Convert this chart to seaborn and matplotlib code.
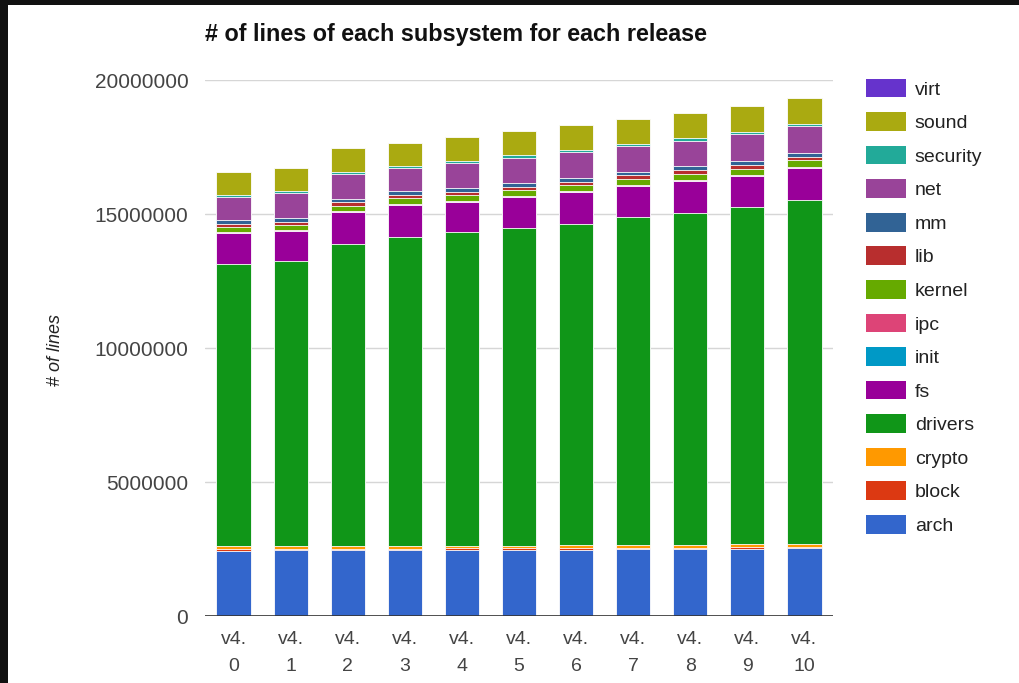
import matplotlib
matplotlib.use("Agg")
import matplotlib.pyplot as plt
import seaborn as sns
import pandas as pd
from matplotlib.patches import Patch, Rectangle

releases = ["v4.0", "v4.1", "v4.2", "v4.3", "v4.4", "v4.5",
            "v4.6", "v4.7", "v4.8", "v4.9", "v4.10"]
tick_labels = ["v4.\n0", "v4.\n1", "v4.\n2", "v4.\n3", "v4.\n4", "v4.\n5",
               "v4.\n6", "v4.\n7", "v4.\n8", "v4.\n9", "v4.\n10"]

subsystems = ["arch", "block", "crypto", "drivers", "fs", "init", "ipc",
              "kernel", "lib", "mm", "net", "security", "sound", "virt"]
colors = ["#3366cc", "#dc3912", "#ff9900", "#109618", "#990099", "#0099c6",
          "#dd4477", "#66aa00", "#b82e2e", "#316395", "#994499", "#22aa99",
          "#aaaa11", "#6633cc"]

# lines of code per subsystem, in millions
arch     = [2.44, 2.45, 2.46, 2.46, 2.47, 2.47, 2.48, 2.49, 2.50, 2.51, 2.52]
block    = [0.05, 0.05, 0.05, 0.05, 0.05, 0.05, 0.05, 0.05, 0.05, 0.05, 0.05]
crypto   = [0.11, 0.11, 0.11, 0.11, 0.11, 0.11, 0.11, 0.11, 0.11, 0.11, 0.11]
drivers  = [10.53, 10.64, 11.26, 11.52, 11.70, 11.85, 11.99, 12.24, 12.38, 12.59, 12.84]
fs       = [1.16, 1.12, 1.19, 1.20, 1.12, 1.15, 1.19, 1.15, 1.19, 1.16, 1.20]
init     = [0.01, 0.01, 0.01, 0.01, 0.01, 0.01, 0.01, 0.01, 0.01, 0.01, 0.01]
ipc      = [0.02, 0.02, 0.02, 0.02, 0.02, 0.02, 0.02, 0.02, 0.02, 0.02, 0.02]
kernel   = [0.20, 0.20, 0.21, 0.21, 0.22, 0.22, 0.23, 0.23, 0.24, 0.24, 0.25]
lib      = [0.12, 0.12, 0.12, 0.13, 0.13, 0.13, 0.13, 0.14, 0.14, 0.14, 0.14]
mm       = [0.13, 0.13, 0.13, 0.13, 0.14, 0.14, 0.14, 0.14, 0.14, 0.15, 0.15]
net      = [0.87, 0.92, 0.93, 0.88, 0.93, 0.95, 0.96, 0.95, 0.96, 0.99, 0.98]
security = [0.08, 0.08, 0.08, 0.08, 0.08, 0.09, 0.09, 0.09, 0.09, 0.09, 0.09]
sound    = [0.84, 0.86, 0.88, 0.84, 0.88, 0.90, 0.91, 0.91, 0.93, 0.96, 0.96]
virt     = [0.01, 0.01, 0.01, 0.01, 0.01, 0.01, 0.01, 0.01, 0.01, 0.01, 0.01]

series = [arch, block, crypto, drivers, fs, init, ipc, kernel, lib, mm,
          net, security, sound, virt]

wide = pd.DataFrame({s: [v * 1e6 for v in vals] for s, vals in zip(subsystems, series)},
                    index=releases)
cum = wide.cumsum(axis=1)
long = cum.reset_index(names="release").melt(id_vars="release",
                                              var_name="subsystem",
                                              value_name="lines")

sns.set_theme(style="white")
plt.rcParams["font.family"] = ["Liberation Sans", "DejaVu Sans"]

fig = plt.figure(figsize=(10.2, 6.83), dpi=100, facecolor="white")
ax = fig.add_axes([205 / 1020, 67 / 683, 628 / 1020, 536 / 683])

# stacked bars: draw cumulative totals from the top layer down
for sub, col in reversed(list(zip(subsystems, colors))):
    sns.barplot(data=long[long["subsystem"] == sub], x="release", y="lines",
                order=releases, color=col, saturation=1, width=0.6,
                edgecolor="white", linewidth=0.6, errorbar=None, ax=ax,
                zorder=3)

ax.set_xlim(-0.5, len(releases) - 0.5)
ax.set_ylim(0, 20e6)
yt = [0, 5e6, 10e6, 15e6, 20e6]
ax.set_yticks(yt)
ax.set_yticklabels([f"{int(v)}" for v in yt], color="#444444", fontsize=15)
ax.set_xticks(range(len(releases)))
ax.set_xticklabels(tick_labels, color="#444444", fontsize=14, linespacing=1.78)
ax.tick_params(axis="both", length=0)
ax.tick_params(axis="y", pad=12)
ax.tick_params(axis="x", pad=10.5)
ax.set_xlabel("")
ax.set_ylabel("")
for sp in ax.spines.values():
    sp.set_visible(False)
ax.yaxis.grid(True, color="#d6d6d6", linewidth=1, zorder=0)
ax.set_axisbelow(True)
ax.axhline(0, color="#333333", linewidth=1.2, zorder=4)

fig.text(205 / 1020, 1 - 35 / 683, "# of lines of each subsystem for each release",
         ha="left", va="center", fontsize=16.8, fontweight="bold", color="#111111")
fig.text(55 / 1020, 1 - 350 / 683, "# of lines", rotation=90, ha="center",
         va="center", fontsize=13, fontstyle="italic", color="#222222")

handles = [Patch(facecolor=c, edgecolor="none", label=s)
           for s, c in reversed(list(zip(subsystems, colors)))]
fig.legend(handles=handles, loc="upper left",
           bbox_to_anchor=(856 / 1020, 1 - 69 / 683), frameon=False,
           fontsize=14, handlelength=2.06, handleheight=1.1,
           handletextpad=0.46, labelspacing=0.70, borderpad=0,
           labelcolor="#222222")

# dark frame along the top and left edges
fig.patches.append(Rectangle((0, 0), 8 / 1020, 1, transform=fig.transFigure,
                             facecolor="#111111", edgecolor="none", zorder=10))
fig.patches.append(Rectangle((0, 1 - 5 / 683), 1, 5 / 683, transform=fig.transFigure,
                             facecolor="#111111", edgecolor="none", zorder=10))

fig.savefig("out.png", dpi=100, facecolor="white")
